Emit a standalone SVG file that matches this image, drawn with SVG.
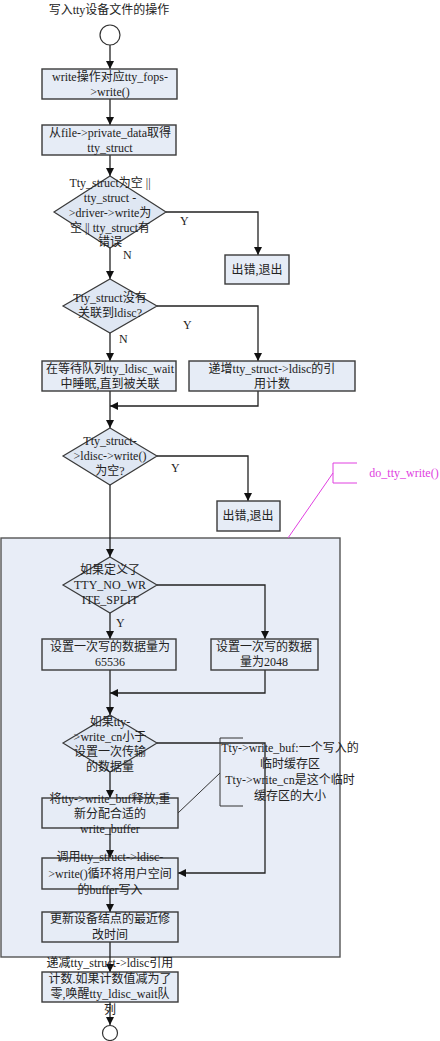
<svg xmlns="http://www.w3.org/2000/svg" width="440" height="1041" viewBox="0 0 440 1041">
<defs>
<style>
text{font-family:"Liberation Serif","Noto Sans CJK SC",serif;font-size:12px;fill:#222;text-anchor:middle}
.box{fill:#e6ecf6;stroke:#3a3a3a;stroke-width:1.4}
.dia{fill:#dfe7f3;stroke:#3a3a3a;stroke-width:1.2}
.ln{fill:none;stroke:#222;stroke-width:1.3}
.circ{fill:#fff;stroke:#333;stroke-width:1.2}
.lbl{text-anchor:start}
.mag{fill:none;stroke:#e040e0;stroke-width:1}
</style>
<marker id="ah" viewBox="0 0 10 10" refX="10" refY="5" markerWidth="8" markerHeight="8" markerUnits="userSpaceOnUse" orient="auto">
<path d="M0,0 L10,5 L0,10 z" fill="#111"/>
</marker>
</defs>
<rect width="440" height="1041" fill="#fff"/>
<text x="109" y="14" style="font-size:12px">写入tty设备文件的操作</text>

<g id="panel"><rect x="1" y="538" width="339" height="419" fill="#e8edf7" stroke="#555" stroke-width="1.4"/></g>

<g id="connectors">
<line class="ln" x1="110" y1="45" x2="110" y2="69" marker-end="url(#ah)"/>
<line class="ln" x1="110" y1="99" x2="110" y2="125" marker-end="url(#ah)"/>
<line class="ln" x1="110" y1="155" x2="110" y2="176" marker-end="url(#ah)"/>
<polyline class="ln" points="166,212 258,212 258,255" marker-end="url(#ah)"/>
<line class="ln" x1="110" y1="248" x2="110" y2="279" marker-end="url(#ah)"/>
<polyline class="ln" points="157,306 258,306 258,361" marker-end="url(#ah)"/>
<line class="ln" x1="110" y1="333" x2="110" y2="361" marker-end="url(#ah)"/>
<polyline class="ln" points="258,391 258,406 110,406" marker-end="url(#ah)"/>
<line class="ln" x1="110" y1="391" x2="110" y2="428" marker-end="url(#ah)"/>
<polyline class="ln" points="157,456 248,456 248,501" marker-end="url(#ah)"/>
<line class="ln" x1="110" y1="485" x2="110" y2="557" marker-end="url(#ah)"/>
<polyline class="ln" points="157,585 265,585 265,639" marker-end="url(#ah)"/>
<line class="ln" x1="110" y1="613" x2="110" y2="639" marker-end="url(#ah)"/>
<polyline class="ln" points="265,670 265,693 110,693" marker-end="url(#ah)"/>
<line class="ln" x1="110" y1="670" x2="110" y2="715" marker-end="url(#ah)"/>
<polyline class="ln" points="157,743 265,743 265,873 178,873" marker-end="url(#ah)"/>
<line class="ln" x1="110" y1="772" x2="110" y2="798" marker-end="url(#ah)"/>
<line class="ln" x1="110" y1="828" x2="110" y2="858" marker-end="url(#ah)"/>
<line class="ln" x1="110" y1="889" x2="110" y2="912" marker-end="url(#ah)"/>
<line class="ln" x1="110" y1="942" x2="110" y2="972" marker-end="url(#ah)"/>
<line class="ln" x1="110" y1="1002" x2="110" y2="1025" marker-end="url(#ah)"/>
</g>

<g id="start"><circle class="circ" cx="110" cy="35" r="10"/></g>
<g id="n1"><rect class="box" x="42" y="69" width="135" height="30"/><text x="110" y="81">write操作对应tty_fops-</text><text x="110" y="96">&gt;write()</text></g>
<g id="n2"><rect class="box" x="42" y="125" width="134" height="30"/><text x="110" y="137">从file-&gt;private_data取得</text><text x="110" y="152">tty_struct</text></g>
<g id="d1"><polygon class="dia" points="110,176 166,212 110,248 54,212"/><text x="110" y="187">Tty_struct为空 ||</text><text x="110" y="202">tty_struct -</text><text x="110" y="217">&gt;driver-&gt;write为</text><text x="110" y="232">空 || tty_struct有</text><text x="110" y="246">错误</text></g>
<text class="lbl" x="180" y="225">Y</text>
<text class="lbl" x="123" y="259">N</text>
<g id="e1"><rect class="box" x="225" y="255" width="64" height="29"/><text x="257" y="274">出错,退出</text></g>
<g id="d2"><polygon class="dia" points="110,279 157,306 110,333 63,306"/><text x="110" y="302">Tty_struct没有</text><text x="110" y="317">关联到ldisc?</text></g>
<text class="lbl" x="183" y="329">Y</text>
<text class="lbl" x="119" y="343">N</text>
<g id="n3"><rect class="box" x="42" y="361" width="134" height="30"/><text x="110" y="373">在等待队列tty_ldisc_wait</text><text x="110" y="388">中睡眠,直到被关联</text></g>
<g id="n4"><rect class="box" x="189" y="361" width="166" height="30"/><text x="272" y="373">递增tty_struct-&gt;ldisc的引</text><text x="272" y="388">用计数</text></g>
<g id="d3"><polygon class="dia" points="110,428 157,456 110,485 63,456"/><text x="110" y="445">Tty_struct-</text><text x="110" y="460">&gt;ldisc-&gt;write()</text><text x="110" y="475">为空?</text></g>
<text class="lbl" x="171" y="472">Y</text>
<g id="e2"><rect class="box" x="217" y="501" width="63" height="30"/><text x="248" y="520">出错,退出</text></g>

<g id="note1"><polyline class="mag" points="357,463 333,463 333,483 357,483"/><line class="mag" x1="333" y1="473" x2="288" y2="538"/><text x="404" y="477" style="fill:#e040e0">do_tty_write()</text></g>

<g id="d4"><polygon class="dia" points="110,557 157,585 110,613 63,585"/><text x="110" y="574">如果定义了</text><text x="110" y="589">TTY_NO_WR</text><text x="110" y="604">ITE_SPLIT</text></g>
<text class="lbl" x="116" y="627">Y</text>
<g id="n5"><rect class="box" x="42" y="639" width="134" height="31"/><text x="110" y="651">设置一次写的数据量为</text><text x="110" y="666">65536</text></g>
<g id="n6"><rect class="box" x="211" y="639" width="107" height="31"/><text x="264" y="651">设置一次写的数据</text><text x="264" y="666">量为2048</text></g>
<g id="d5"><polygon class="dia" points="110,715 157,743 110,772 63,743"/><text x="110" y="726">如果tty-</text><text x="110" y="741">&gt;write_cn小于</text><text x="110" y="756">设置一次传输</text><text x="110" y="771">的数据量</text></g>
<g id="note2"><polyline class="ln" style="stroke:#333;stroke-width:1" points="243,738 220,738 220,806 243,806"/><line class="ln" style="stroke:#333;stroke-width:1" x1="220" y1="773" x2="178" y2="813"/><text x="290" y="752">Tty-&gt;write_buf:一个写入的</text><text x="290" y="768">临时缓存区</text><text x="290" y="784">Tty-&gt;write_cn是这个临时</text><text x="290" y="800">缓存区的大小</text></g>
<g id="n7"><rect class="box" x="42" y="798" width="136" height="30"/><text x="110" y="803">将tty-&gt;write_buf释放,重</text><text x="110" y="818">新分配合适的</text><text x="110" y="833">write_buffer</text></g>
<g id="n8"><rect class="box" x="42" y="858" width="136" height="31"/><text x="110" y="861">调用tty_struct-&gt;ldisc-</text><text x="110" y="878">&gt;write()循环将用户空间</text><text x="110" y="894">的buffer写入</text></g>
<g id="n9"><rect class="box" x="42" y="912" width="136" height="30"/><text x="110" y="923">更新设备结点的最近修</text><text x="110" y="939">改时间</text></g>
<g id="n10"><rect class="box" x="42" y="972" width="136" height="30"/><text x="110" y="967">递减tty_struct-&gt;ldisc引用</text><text x="110" y="983">计数.如果计数值减为了</text><text x="110" y="998">零,唤醒tty_ldisc_wait队</text><text x="110" y="1014">列</text></g>
<g id="end"><circle class="circ" cx="110" cy="1033" r="7.5"/></g>
</svg>
